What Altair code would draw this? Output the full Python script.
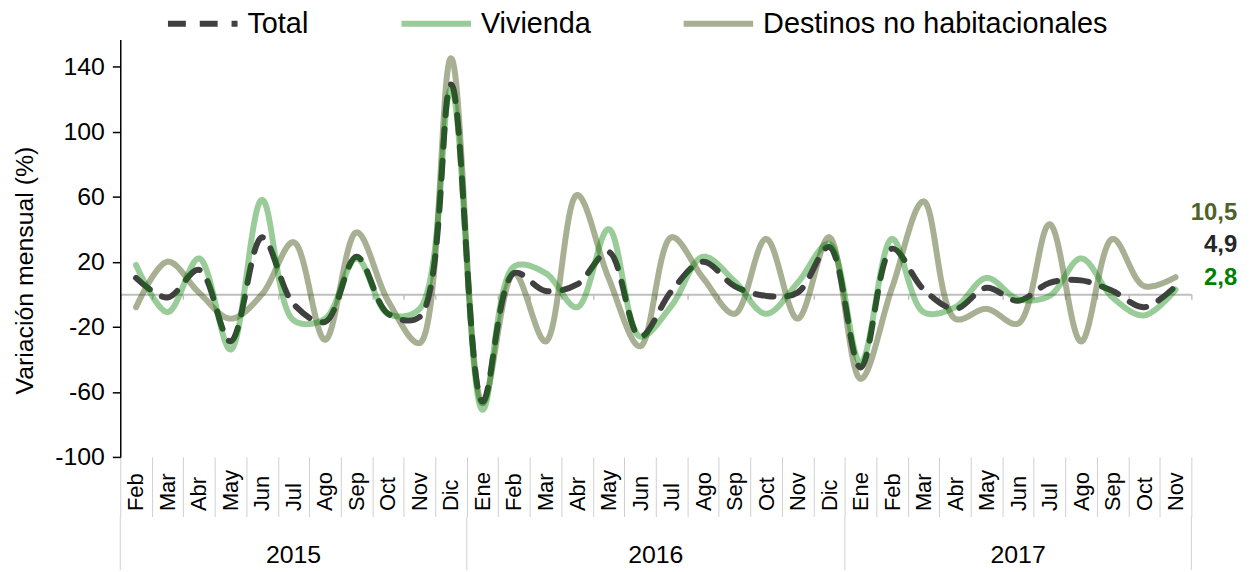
import altair as alt
import pandas as pd

FONT = "Liberation Sans"

YEARS = ["2015", "2016", "2017"]
MONTHS_2015 = ["Feb", "Mar", "Abr", "May", "Jun", "Jul", "Ago", "Sep", "Oct", "Nov", "Dic"]
MONTHS_2016 = ["Ene", "Feb", "Mar", "Abr", "May", "Jun", "Jul", "Ago", "Sep", "Oct", "Nov", "Dic"]
MONTHS_2017 = ["Ene", "Feb", "Mar", "Abr", "May", "Jun", "Jul", "Ago", "Sep", "Oct", "Nov"]

TOTAL = [10, -2, 15, -29, 35, -6, -17, 23, -12, -14, 129,
         -66, 13, 2, 6, 26, -26, 2, 20, 5, -1, 1, 29,
         -45, 28, 3, -9, 4, -4, 7, 8.5, 2, -8, 4.9]
VIVIENDA = [18, -11, 22, -34, 58, -16, -15, 22, -12, -9, 126,
            -71, 17, 13, -8, 40, -26, -7, 23, 8, -12, 7, 31,
            -42, 34, -11, -8, 10, -3, -1, 22, -2, -13, 2.8]
DESTINOS = [-8, 20, 1, -15, 0, 32, -28, 38, -4, -30, 145,
            -67, 13, -29, 61, 10, -32, 35, 10, -12, 34, -15, 35,
            -52, 4, 57, -15, -9, -18, 43, -29, 34, 5, 10.5]

SERIES = ["Total", "Vivienda", "Destinos no habitacionales"]
LAST_TEXT = ["10,5", "4,9", "2,8"]
LAST_SERIES = ["Destinos no habitacionales", "Total", "Vivienda"]

# styles
COLORS = ["#404040", "rgba(0,128,0,0.4)", "rgba(79,98,40,0.5)"]
DASHES = [[18, 14], [1, 0], [1, 0]]
TEXT_COLORS = ["#4f6228", "#262626", "#008000"]
TEXT_ANCHOR_Y = [50, 30, 10]

months_by_year = {"2015": MONTHS_2015, "2016": MONTHS_2016, "2017": MONTHS_2017}
keys = []
for y in YEARS:
    for m in months_by_year[y]:
        keys.append(f"{y}-{m}")

rows = []
for serie, vals in zip(SERIES, [TOTAL, VIVIENDA, DESTINOS]):
    for k, v in zip(keys, vals):
        rows.append({"key": k, "serie": serie, "valor": v})
df = pd.DataFrame(rows)

W, H = 1078, 420
YMIN, YMAX = -100, 156.5
zero_offset = (0 - YMIN) / (YMAX - YMIN) * H

x_scale = alt.Scale(type="band", domain=keys, paddingInner=0, paddingOuter=0)
y_scale = alt.Scale(domain=[YMIN, YMAX], nice=False, zero=False)

y_axis = alt.Axis(values=[-100, -60, -20, 20, 60, 100, 140], grid=False,
                  labelExpr="toString(datum.value)",
                  domainColor="black", domainWidth=1.5, tickColor="black",
                  tickWidth=1.5, tickSize=8, labelPadding=8,
                  labelFont=FONT, labelFontSize=25, labelColor="black",
                  title="Variación mensual (%)", titleFont=FONT, titleFontSize=25,
                  titleFontWeight="normal", titleColor="black",
                  titleX=-83, titleY=232, titleAngle=270, titleAlign="center",
                  titleBaseline="bottom")

axis_bottom = alt.Axis(orient="bottom", domain=False, ticks=True, tickBand="extent",
                       tickSize=60, tickColor="#d0d0d0", tickWidth=1,
                       labelAngle=270, labelAlign="left", labelBaseline="middle",
                       labelPadding=-6, labelFont=FONT, labelFontSize=22,
                       labelColor="black", labelExpr="split(datum.value, '-')[1]",
                       labelOverlap=False, labelFlush=False, title=None, grid=False)

axis_zero = alt.Axis(orient="bottom", offset=-zero_offset, domain=True,
                     domainColor="#bfbfbf", domainWidth=2, ticks=True,
                     tickBand="extent", tickSize=5, tickColor="#bfbfbf",
                     tickWidth=1.5, labels=False, title=None, grid=False)

legend = alt.Legend(orient="none", legendX=45, legendY=-54, direction="horizontal",
                    title=None, symbolType="stroke", symbolSize=4900,
                    symbolStrokeWidth=6, labelFont=FONT, labelFontSize=29,
                    labelColor="black", columnPadding=81, labelOffset=7,
                    labelLimit=600)

color_scale = alt.Scale(domain=SERIES, range=COLORS)
dash_scale = alt.Scale(domain=SERIES, range=DASHES)

base = alt.Chart(df)


def line(serie, axis):
    return base.transform_filter(alt.datum.serie == serie).mark_line(
        interpolate="catmull-rom", strokeWidth=6, strokeCap="round"
    ).encode(
        x=alt.X("key:N", scale=x_scale, axis=axis),
        y=alt.Y("valor:Q", scale=y_scale, axis=y_axis),
        color=alt.Color("serie:N", scale=color_scale, legend=legend),
        strokeDash=alt.StrokeDash("serie:N", scale=dash_scale, legend=legend),
    )


lab_df = pd.DataFrame({"key": [keys[-1]] * 3, "txt": LAST_TEXT, "serie": LAST_SERIES,
                       "tc": TEXT_COLORS, "ay": TEXT_ANCHOR_Y})
labels = alt.Chart(lab_df).mark_text(font=FONT, fontSize=24, fontWeight="bold",
                                     align="right", baseline="middle", dx=62).encode(
    x=alt.X("key:N", scale=x_scale, axis=None),
    y=alt.Y("ay:Q", scale=y_scale, axis=y_axis),
    text="txt:N",
    color=alt.Color("tc:N", scale=None),
)

top = alt.layer(
    line("Destinos no habitacionales", axis_bottom),
    line("Total", axis_zero),
    line("Vivienda", None),
    labels,
).resolve_axis(x="independent").properties(width=W, height=H)

# year strip
counts = [len(months_by_year[y]) for y in YEARS]
starts = [sum(counts[:i]) for i in range(len(counts))]
bounds_df = pd.DataFrame({"pos": starts + [sum(counts)]})
years_df = pd.DataFrame({"year": YEARS, "c": [s + n / 2 for s, n in zip(starts, counts)]})
xq = alt.Scale(domain=[0, sum(counts)], nice=False, zero=False)
STRIP_H = 54
rules = alt.Chart(bounds_df).mark_rule(color="#d0d0d0", strokeWidth=1).encode(
    x=alt.X("pos:Q", scale=xq, axis=None), y=alt.value(0), y2=alt.value(STRIP_H))
ytext = alt.Chart(years_df).mark_text(font=FONT, fontSize=25, baseline="middle",
                                      color="black").encode(
    x=alt.X("c:Q", scale=xq, axis=None), y=alt.value(39), text="year:N")
strip = alt.layer(rules, ytext).properties(width=W, height=STRIP_H)

chart = alt.vconcat(top, strip, spacing=60, bounds="flush").properties(
    padding={"left": 5, "top": -24, "right": 5, "bottom": 0}
).configure_view(stroke=None)

chart.save("out.html", embed_options={"renderer": "svg", "actions": False})
